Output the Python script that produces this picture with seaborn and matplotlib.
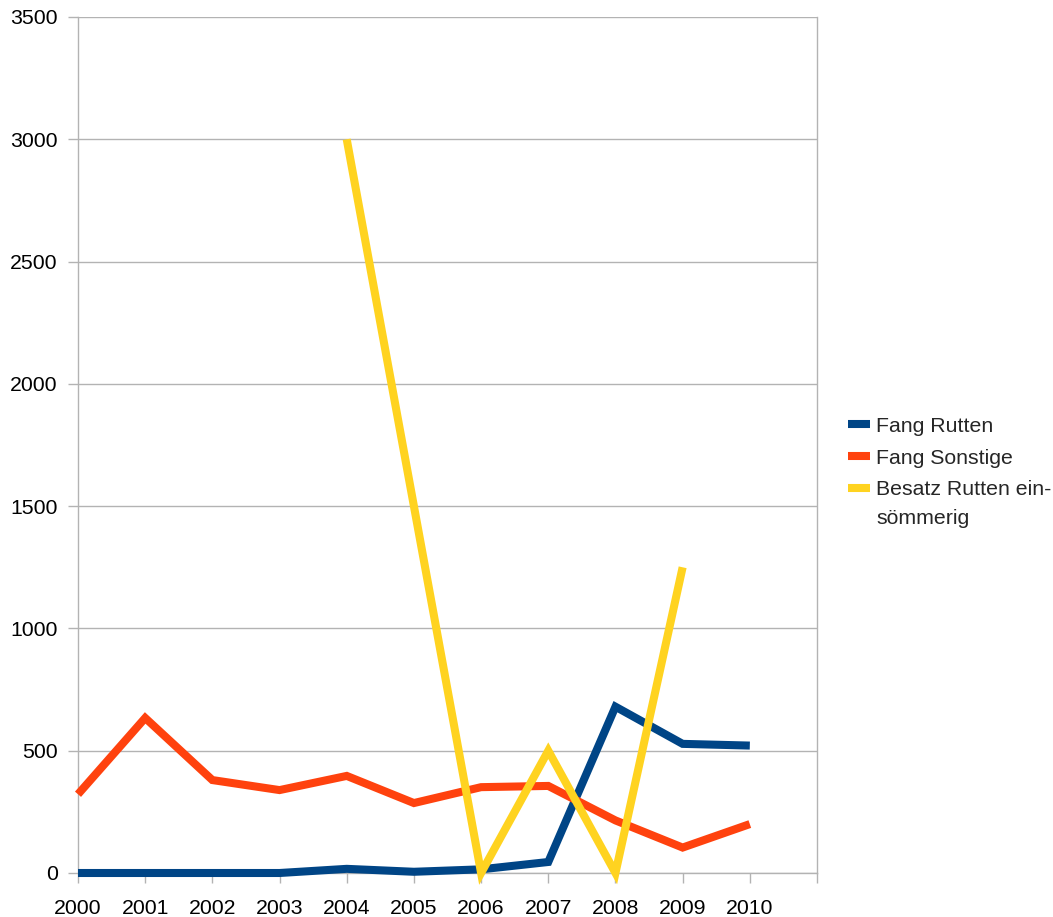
import numpy as np
import pandas as pd
import matplotlib
matplotlib.use("Agg")
import matplotlib.pyplot as plt
import seaborn as sns

# data
years = ["2000", "2001", "2002", "2003", "2004", "2005", "2006", "2007", "2008", "2009", "2010"]
fang_rutten = [0, 0, 0, 0, 17, 5, 15, 45, 680, 528, 521]
fang_sonstige = [322, 634, 380, 339, 397, 286, 351, 356, 215, 104, 200]
besatz = [np.nan, np.nan, np.nan, np.nan, 3000, 1500, 0, 500, 0, 1250, np.nan]

series_names = ["Fang Rutten", "Fang Sonstige", "Besatz Rutten ein-\nsömmerig"]
colors = ["#004586", "#ff420e", "#ffd320"]

rows = []
for name, vals in zip(series_names, [fang_rutten, fang_sonstige, besatz]):
    for i, v in enumerate(vals):
        rows.append({"pos": i, "value": v, "series": name})
df = pd.DataFrame(rows).dropna()

sns.set_style("white")
plt.rcParams["font.family"] = ["Liberation Sans", "DejaVu Sans"]
FS = 15.3
LW = 5.8

fig = plt.figure(figsize=(10.53, 9.17), dpi=100)
ax = fig.add_axes([78 / 1053, 1 - 873 / 917, (817 - 78) / 1053, (873 - 17) / 917])

sns.lineplot(data=df, x="pos", y="value", hue="series", hue_order=series_names,
             palette=dict(zip(series_names, colors)), linewidth=LW, ax=ax,
             legend=False)
for line in ax.get_lines():
    line.set_clip_on(False)
    line.set_solid_joinstyle("miter")
    line.set_solid_capstyle("butt")
    line.set_zorder(3)

ax.set_xlim(0, 11)
ax.set_ylim(0, 3500)
ax.set_xticks(range(12))
ax.set_xticklabels(years + [""])
ax.set_yticks(range(0, 3501, 500))
ax.set_xlabel("")
ax.set_ylabel("")
ax.grid(axis="y", color="#b3b3b3", linewidth=1)
ax.set_axisbelow(True)
for s in ax.spines.values():
    s.set_color("#b3b3b3")
    s.set_linewidth(1)
ax.spines["top"].set_visible(False)
ax.tick_params(axis="both", which="both", bottom=True, left=True, length=7.5, width=1,
               color="#b3b3b3", labelsize=FS, labelcolor="black", direction="out")
ax.tick_params(axis="x", pad=11.5)
ax.tick_params(axis="y", pad=7)

# legend: first line of each label next to its handle, wrapped rest as text
handles = [plt.Line2D([], [], color=c, linewidth=LW, solid_capstyle="butt") for c in colors]
leg_labels = ["Fang Rutten", "Fang Sonstige", "Besatz Rutten ein-"]
fig.legend(handles, leg_labels, loc="center left", bbox_to_anchor=(848 / 1053, 1 - 458 / 917),
           frameon=False, fontsize=FS, handlelength=1.04, handletextpad=0.28,
           labelspacing=0.6, borderpad=0, borderaxespad=0)
fig.text(876 / 1053, 1 - 519 / 917, "sömmerig", fontsize=FS, va="center", ha="left")

fig.savefig("out.png", dpi=100)
